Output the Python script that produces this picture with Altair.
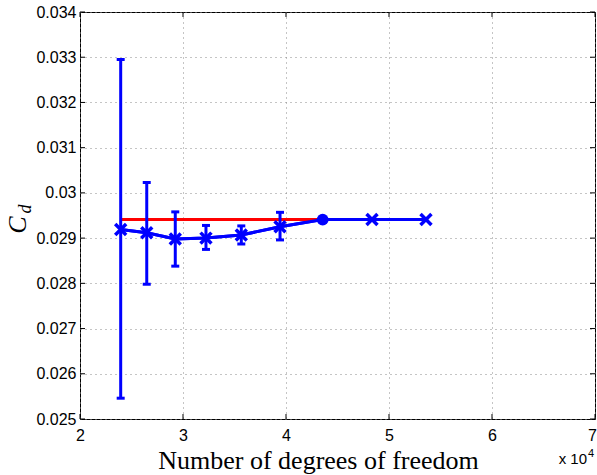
import altair as alt
import pandas as pd

# Data (number of degrees of freedom, drag coefficient with error bounds)
dof = [23950, 26480, 29250, 32230, 35660, 39420, 43560, 48350, 53590]
cd = [0.02919, 0.02912, 0.02898, 0.02900, 0.02907, 0.02925, 0.02941, 0.02941, 0.02941]
cd_low = [0.02546, 0.02798, 0.02838, 0.02875, 0.02887, 0.02896, 0.02937, None, None]
cd_high = [0.03295, 0.03023, 0.02958, 0.02928, 0.02927, 0.02957, 0.02945, None, None]
marker = ["x", "x", "x", "x", "x", "x", "o", "x", "x"]
ref_cd = 0.02941
ref_start = 23950
ref_end = 43560
x_ticks = [20000, 30000, 40000, 50000, 60000, 70000]
y_ticks = [0.025, 0.026, 0.027, 0.028, 0.029, 0.030, 0.031, 0.032, 0.033, 0.034]

W, H = 515, 407
BLUE = "#0000ff"
RED = "#ff0000"

df = pd.DataFrame({"dof": dof, "cd": cd, "lo": cd_low, "hi": cd_high, "m": marker})
ref = pd.DataFrame({"x": [ref_start], "x2": [ref_end], "y": [ref_cd]})
xt = pd.DataFrame({"v": x_ticks})
yt = pd.DataFrame({"v": y_ticks})

xs = alt.Scale(domain=[20000, 70000], nice=False, zero=False)
ys = alt.Scale(domain=[0.025, 0.034], nice=False, zero=False)

X = alt.X("dof:Q", scale=xs, axis=alt.Axis(
    values=x_ticks, labelExpr="format(datum.value/10000, 'd')",
    title="Number of degrees of freedom", ticks=False, domain=False,
    grid=True, gridColor="#8a8a8a", gridDash=[1, 4], gridWidth=1,
    labelFont="Liberation Sans", labelFontSize=16, labelColor="black",
    labelPadding=8, labelFlush=False,
    labelOffset={"condition": {"test": "datum.value == 70000", "value": -3}, "value": 0},
    titleFont="Liberation Serif", titleFontSize=26, titleFontWeight="normal",
    titleColor="black", titlePadding=4, titleX=238, titleAnchor="middle", titleAlign="center"))
Y = alt.Y("cd:Q", scale=ys, axis=alt.Axis(
    values=y_ticks, labelExpr="format(datum.value, '.3~f')", title=None,
    ticks=False, domain=False,
    grid=True, gridColor="#8a8a8a", gridDash=[1, 4], gridWidth=1,
    labelFont="Liberation Sans", labelFontSize=16, labelColor="black",
    labelPadding=4, labelFlush=False))

base = alt.Chart(df)

line = base.mark_line(color=BLUE, strokeWidth=3).encode(x=X, y=Y)

err_df = df.dropna()
bars = alt.Chart(err_df).mark_rule(color=BLUE, strokeWidth=3).encode(
    x=alt.X("dof:Q", scale=xs), y=alt.Y("lo:Q", scale=ys), y2="hi:Q")
cap_hi = alt.Chart(err_df).mark_tick(color=BLUE, thickness=3, size=8, orient="horizontal", opacity=1).encode(
    x=alt.X("dof:Q", scale=xs), y=alt.Y("hi:Q", scale=ys))
cap_lo = alt.Chart(err_df).mark_tick(color=BLUE, thickness=3, size=8, orient="horizontal", opacity=1).encode(
    x=alt.X("dof:Q", scale=xs), y=alt.Y("lo:Q", scale=ys))

pts_x2 = alt.Chart(df[df.m == "x"]).mark_point(
    shape="M-1,-1L1,1M-1,1L1,-1", color=BLUE, strokeWidth=3.5, size=120, opacity=1).encode(
    x=alt.X("dof:Q", scale=xs), y=alt.Y("cd:Q", scale=ys))
pts_o = alt.Chart(df[df.m == "o"]).mark_point(
    shape="circle", color=BLUE, filled=True, opacity=1, size=140).encode(
    x=alt.X("dof:Q", scale=xs), y=alt.Y("cd:Q", scale=ys))

red = alt.Chart(ref).mark_rule(color=RED, strokeWidth=3).encode(
    x=alt.X("x:Q", scale=xs), x2="x2:Q", y=alt.Y("y:Q", scale=ys))

# inward ticks on all four sides
tk_l = alt.Chart(yt).mark_rule(color="black", strokeWidth=1).encode(
    y=alt.Y("v:Q", scale=ys), x=alt.value(0), x2=alt.value(5))
tk_r = alt.Chart(yt).mark_rule(color="black", strokeWidth=1).encode(
    y=alt.Y("v:Q", scale=ys), x=alt.value(W - 5), x2=alt.value(W))
tk_b = alt.Chart(xt).mark_rule(color="black", strokeWidth=1).encode(
    x=alt.X("v:Q", scale=xs), y=alt.value(H - 5), y2=alt.value(H))
tk_t = alt.Chart(xt).mark_rule(color="black", strokeWidth=1).encode(
    x=alt.X("v:Q", scale=xs), y=alt.value(0), y2=alt.value(5))

# y-axis title C_d
lab = pd.DataFrame({"t": ["C"]})
ylab_c = alt.Chart(lab).mark_text(
    font="Liberation Serif", fontStyle="italic", fontSize=26, angle=270,
    color="black", align="center", baseline="middle").encode(
    text="t:N", x=alt.value(-62), y=alt.value(213))
labd = pd.DataFrame({"t": ["d"]})
ylab_d = alt.Chart(labd).mark_text(
    font="Liberation Serif", fontStyle="italic", fontSize=18, angle=270,
    color="black", align="center", baseline="middle").encode(
    text="t:N", x=alt.value(-54), y=alt.value(197))

# exponent label
expo = pd.DataFrame({"t": ["x 10"]})
ex1 = alt.Chart(expo).mark_text(
    font="Liberation Sans", fontSize=15, color="black", align="right",
    baseline="alphabetic").encode(text="t:N", x=alt.value(507), y=alt.value(50 + H - 5))
expo2 = pd.DataFrame({"t": ["4"]})
ex2 = alt.Chart(expo2).mark_text(
    font="Liberation Sans", fontSize=11, color="black", align="left",
    baseline="alphabetic").encode(text="t:N", x=alt.value(508), y=alt.value(50 + H - 12))

chart = alt.layer(
    line, tk_l, tk_r, tk_b, tk_t, red, bars, cap_hi, cap_lo, line, pts_x2, pts_o,
    ylab_c, ylab_d, ex1, ex2
).properties(
    width=W, height=H,
    padding={"left": 80, "top": 12, "right": 2, "bottom": 56},
    autosize=alt.AutoSizeParams(type="none"),
    background="white",
).configure_view(stroke="black", strokeWidth=1)

chart.save("out.html", embed_options={"renderer": "svg", "actions": False})
